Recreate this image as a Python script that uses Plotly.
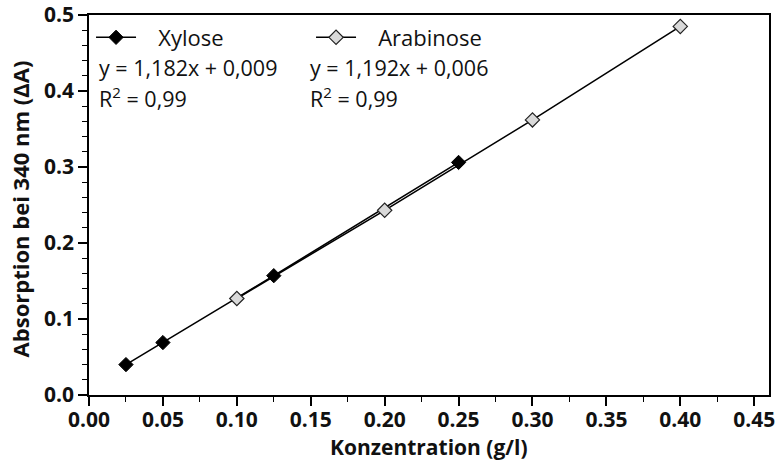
import plotly.graph_objects as go

xylose_x = [0.025, 0.05, 0.125, 0.25]
xylose_y = [0.040, 0.069, 0.157, 0.306]
arab_x = [0.10, 0.20, 0.30, 0.40]
arab_y = [0.127, 0.243, 0.362, 0.485]

xylose_eq = "y = 1,182x + 0,009"
arab_eq = "y = 1,192x + 0,006"
r2_text = "R<sup>2</sup> = 0,99"

x_title = "Konzentration (g/l)"
y_title = "Absorption bei 340 nm (ΔA)"

x_ticks = [0, 0.05, 0.10, 0.15, 0.20, 0.25, 0.30, 0.35, 0.40, 0.45]
x_ticktext = ["0.00", "0.05", "0.10", "0.15", "0.20", "0.25", "0.30", "0.35", "0.40", "0.45"]
y_ticks = [0, 0.1, 0.2, 0.3, 0.4, 0.5]
y_ticktext = ["0.0", "0.1", "0.2", "0.3", "0.4", "0.5"]

FONT = "Open Sans"
TXT = "#111111"

fig = go.Figure()
fig.add_trace(go.Scatter(
    x=xylose_x, y=xylose_y, mode="lines+markers", name="   Xylose",
    line=dict(color="black", width=1.6),
    marker=dict(symbol="diamond", size=11, color="black", line=dict(color="black", width=1)),
))
fig.add_trace(go.Scatter(
    x=arab_x, y=arab_y, mode="lines+markers", name="   Arabinose",
    line=dict(color="black", width=1.6),
    marker=dict(symbol="diamond", size=11, color="#d9d9d9", line=dict(color="#222222", width=1.2)),
))

ann_font = dict(family=FONT, size=21.5, color=TXT)
for xp, eq in [(0.012, xylose_eq), (0.322, arab_eq)]:
    fig.add_annotation(x=xp, y=0.861, xref="paper", yref="paper", text=eq,
                       showarrow=False, xanchor="left", yanchor="middle", font=ann_font)
    fig.add_annotation(x=xp, y=0.782, xref="paper", yref="paper", text=r2_text,
                       showarrow=False, xanchor="left", yanchor="middle", font=ann_font)

# axis titles
fig.add_annotation(x=0.5, y=-0.137, xref="paper", yref="paper", text=x_title,
                   showarrow=False, xanchor="center", yanchor="middle",
                   font=dict(family=FONT, size=21, color=TXT, weight="bold"))
fig.add_annotation(x=-0.1015, y=0.491, xref="paper", yref="paper", text=y_title,
                   showarrow=False, xanchor="center", yanchor="middle", textangle=-90,
                   font=dict(family=FONT, size=22, color=TXT, weight="bold"))

fig.update_layout(
    width=777, height=470,
    margin=dict(l=89, r=8, t=15, b=75),
    plot_bgcolor="white", paper_bgcolor="white",
    font=dict(family=FONT, color=TXT),
    showlegend=True,
    legend=dict(orientation="h", x=0.003, y=0.996, xanchor="left", yanchor="top",
                font=dict(family=FONT, size=22, color=TXT),
                bgcolor="rgba(0,0,0,0)", entrywidth=165, entrywidthmode="pixels",
                itemwidth=40),
    xaxis=dict(
        range=[0, 0.46], tickmode="array", tickvals=x_ticks, ticktext=x_ticktext,
        ticks="outside", ticklen=9, tickwidth=1.5, tickcolor="black",
        minor=dict(dtick=0.025, tick0=0, ticks="outside", ticklen=5, tickwidth=1.2, tickcolor="black"),
        showline=True, linecolor="black", linewidth=1.5, mirror=True,
        showgrid=False, zeroline=False, automargin=False,
        ticklabeloverflow="allow", ticklabelstandoff=-4,
        tickfont=dict(family=FONT, size=21, color=TXT, weight="bold"),
    ),
    yaxis=dict(
        range=[0, 0.5], tickmode="array", tickvals=y_ticks, ticktext=y_ticktext,
        ticks="outside", ticklen=9, tickwidth=1.5, tickcolor="black",
        minor=dict(dtick=0.02, tick0=0, ticks="outside", ticklen=5, tickwidth=1.2, tickcolor="black"),
        showline=True, linecolor="black", linewidth=1.5, mirror=True,
        showgrid=False, zeroline=False, automargin=False,
        ticklabeloverflow="allow",
        tickfont=dict(family=FONT, size=21, color=TXT, weight="bold"),
    ),
)

fig.write_html("out.html", config={"displayModeBar": False},
               post_script="document.body.style.margin='0';document.body.style.overflow='hidden';")
